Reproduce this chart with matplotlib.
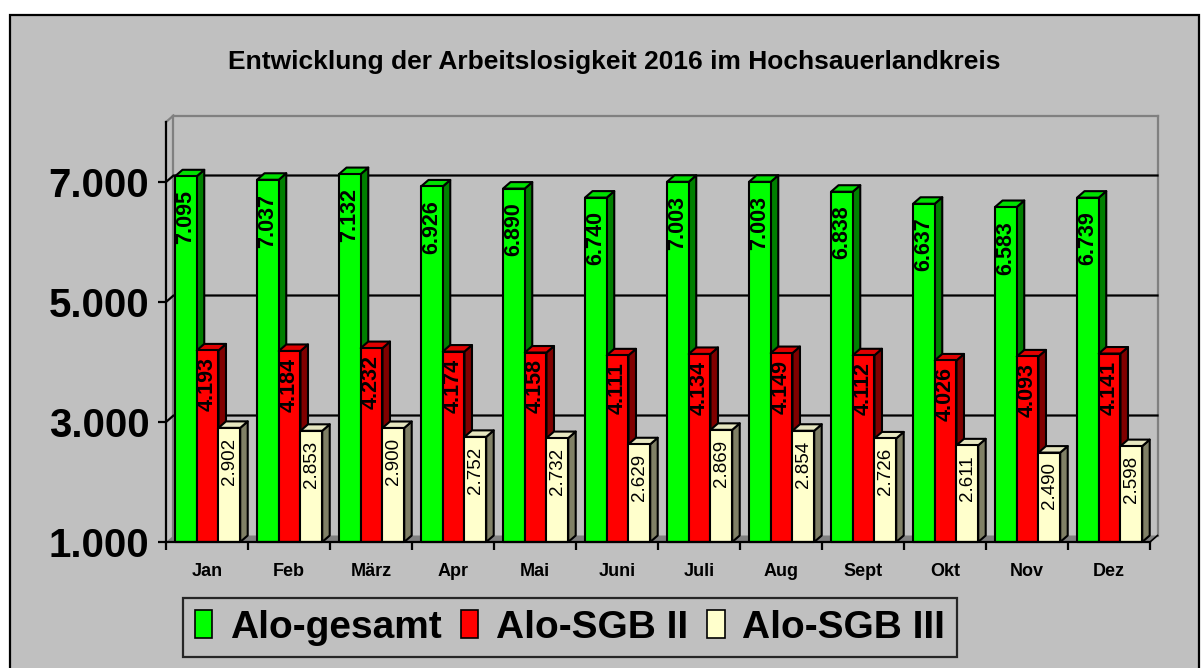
import matplotlib
matplotlib.use("Agg")
import matplotlib.pyplot as plt
from matplotlib.patches import Rectangle, Polygon
from matplotlib.lines import Line2D

plt.rcParams['font.family'] = ['Liberation Sans', 'DejaVu Sans']

months = ["Jan", "Feb", "März", "Apr", "Mai", "Juni", "Juli", "Aug", "Sept", "Okt", "Nov", "Dez"]
alo_gesamt = [7095, 7037, 7132, 6926, 6890, 6740, 7003, 7003, 6838, 6637, 6583, 6739]
alo_sgb2 = [4193, 4184, 4232, 4174, 4158, 4111, 4134, 4149, 4112, 4026, 4093, 4141]
alo_sgb3 = [2902, 2853, 2900, 2752, 2732, 2629, 2869, 2854, 2726, 2611, 2490, 2598]
series_names = ["Alo-gesamt", "Alo-SGB II", "Alo-SGB III"]
y_ticks = [1000, 3000, 5000, 7000]
title = "Entwicklung der Arbeitslosigkeit 2016 im Hochsauerlandkreis"

series = [alo_gesamt, alo_sgb2, alo_sgb3]
face_cols = ["#00FF00", "#FF0000", "#FFFFCC"]
top_cols = ["#00E000", "#E00000", "#E6E6C0"]
side_cols = ["#008000", "#800000", "#808066"]
label_weights = ["bold", "bold", "normal"]
label_sizes = [15.5, 15.5, 13.5]
label_gaps = [-10, -5, -7]

W, H = 1204, 668
fig = plt.figure(figsize=(W / 100, H / 100), dpi=100, facecolor="white")

# outer frame
fig.patches.append(Rectangle((10 / W, -0.02), 1189 / W, (H - 15) / H + 0.02,
                             transform=fig.transFigure, facecolor="#C0C0C0",
                             edgecolor="black", linewidth=1.6, zorder=-10))

ax = fig.add_axes([166 / W, (H - 542) / H, 984 / W, 420 / H])
ax.set_facecolor("none")
ymin, ymax = 1000, 8000
ax.set_xlim(0, 12)
ax.set_ylim(ymin, ymax)

px_x = 12 / 984.0
px_y = (ymax - ymin) / 420.0
dx = 7.5 * px_x
dy = 6.5 * px_y
n = len(months)

# back wall / floor
ax.add_patch(Polygon([(0, ymin), (n, ymin), (n + dx, ymin + dy), (dx, ymin + dy)],
                     closed=True, facecolor="#808080", edgecolor="none", zorder=1, clip_on=False))
gray_kw = dict(color="#808080", lw=1.6, zorder=1, clip_on=False)
ax.add_line(Line2D([dx, n + dx], [ymax + dy, ymax + dy], **gray_kw))
ax.add_line(Line2D([n + dx, n + dx], [ymin + dy, ymax + dy], **gray_kw))
ax.add_line(Line2D([dx, dx], [ymin + dy, ymax + dy], **gray_kw))
ax.add_line(Line2D([0, dx], [ymax, ymax + dy], **gray_kw))
ax.add_line(Line2D([n, n + dx], [ymin, ymin + dy], color="black", lw=1.2, zorder=1, clip_on=False))

for v in y_ticks[1:]:
    ax.add_line(Line2D([0, dx, n + dx], [v, v + dy, v + dy], color="black", lw=1.6,
                       zorder=2, clip_on=False))

# bars
bw = 0.265
start = 0.11
for i in range(n):
    for k, vals in enumerate(series):
        v = vals[i]
        x0 = i + start + k * bw
        x1 = x0 + bw
        z = 3 + k
        ax.add_patch(Polygon([(x1, ymin), (x1 + dx, ymin + dy), (x1 + dx, v + dy), (x1, v)],
                             closed=True, facecolor=side_cols[k], edgecolor="black",
                             lw=1.5, zorder=z, clip_on=False, joinstyle="round"))
        ax.add_patch(Polygon([(x0, v), (x1, v), (x1 + dx, v + dy), (x0 + dx, v + dy)],
                             closed=True, facecolor=top_cols[k], edgecolor="black",
                             lw=1.5, zorder=z, clip_on=False, joinstyle="round"))
        ax.add_patch(Rectangle((x0, ymin), bw, v - ymin, facecolor=face_cols[k],
                               edgecolor="black", lw=1.5, zorder=z, clip_on=False,
                               joinstyle="round"))
        ax.annotate(f"{v:,}".replace(",", "."), xy=(x0 + bw / 2, v),
                    xytext=(0, label_gaps[k]), textcoords="offset points",
                    ha="center", va="top", rotation=90, fontsize=label_sizes[k],
                    fontweight=label_weights[k], color="black", zorder=10)

# axes styling
for s in ["top", "right"]:
    ax.spines[s].set_visible(False)
for s in ["left", "bottom"]:
    ax.spines[s].set_linewidth(1.6)
    ax.spines[s].set_zorder(9)
ax.set_yticks(y_ticks)
ax.set_yticklabels([f"{t:,}".replace(",", ".") for t in y_ticks], fontsize=29, fontweight="bold")
ax.tick_params(axis="y", direction="out", length=6, width=1.6, pad=6)
ax.set_xticks(range(n + 1))
ax.set_xticklabels([])
ax.set_xticks([i + 0.5 for i in range(n)], minor=True)
ax.set_xticklabels(months, minor=True, fontsize=13, fontweight="bold")
ax.tick_params(axis="x", which="major", direction="out", length=6, width=1.6)
ax.tick_params(axis="x", which="minor", length=0, pad=15)

fig.text(614 / W, 1 - 62 / H, title, ha="center", va="center", fontsize=19, fontweight="bold")

handles = [Rectangle((0, 0), 1, 1, facecolor=c, edgecolor="black", lw=1.2) for c in face_cols]
leg = fig.legend(handles, series_names, loc="center", bbox_to_anchor=(570 / W, 1 - 627.5 / H),
                 ncol=3, prop={"weight": "bold", "size": 28}, frameon=True,
                 handlelength=0.45, handleheight=0.75, handletextpad=0.45, columnspacing=0.5,
                 borderpad=0.3, borderaxespad=0)
leg.get_frame().set_facecolor("#C0C0C0")
leg.get_frame().set_edgecolor("black")
leg.get_frame().set_linewidth(1.6)
leg.get_frame().set_boxstyle("square", pad=0)

fig.savefig("out.png", dpi=100, facecolor="white")
